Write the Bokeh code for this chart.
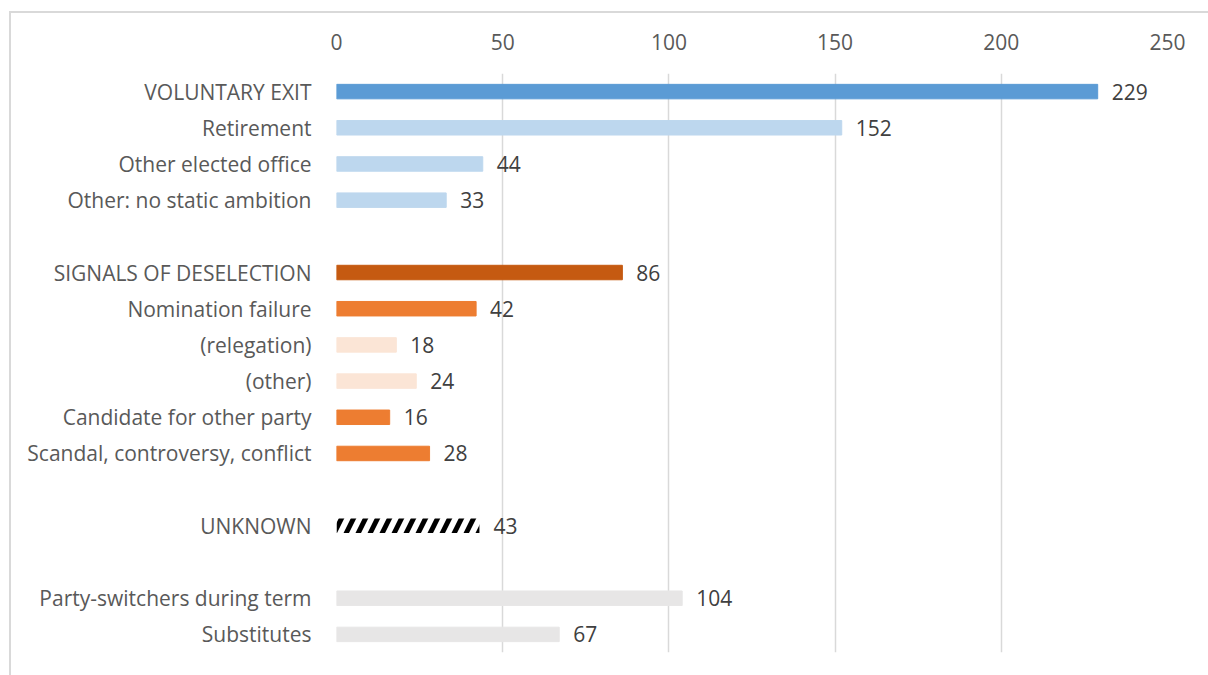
from bokeh.plotting import figure
from bokeh.models import ColumnDataSource, FixedTicker, Range1d, LabelSet
from bokeh.core.properties import value
from bokeh.embed import file_html
from bokeh.resources import INLINE

categories = ["VOLUNTARY EXIT", "Retirement", "Other elected office", "Other: no static ambition", "",
              "SIGNALS OF DESELECTION", "Nomination failure", "(relegation)", "(other)",
              "Candidate for other party", "Scandal, controversy, conflict", "",
              "UNKNOWN", "",
              "Party-switchers during term", "Substitutes"]
values = [229, 152, 44, 33, None, 86, 42, 18, 24, 16, 28, None, 43, None, 104, 67]
colors = ["#5B9BD5", "#BDD7EE", "#BDD7EE", "#BDD7EE", None,
          "#C55A11", "#ED7D31", "#FBE5D6", "#FBE5D6", "#ED7D31", "#ED7D31", None,
          "hatch", None, "#E7E6E6", "#E7E6E6"]
x_ticks = [0, 50, 100, 150, 200, 250]

FONT = "Open Sans"
FS = "21px"

pos = [i for i, v in enumerate(values) if v is not None]
plain = [i for i in pos if colors[i] != "hatch"]
hatched = [i for i in pos if colors[i] == "hatch"]

src = ColumnDataSource(dict(y=plain, v=[values[i] for i in plain], c=[colors[i] for i in plain],
                            t=[str(values[i]) for i in plain]))
hsrc = ColumnDataSource(dict(y=hatched, v=[values[i] for i in hatched], t=[str(values[i]) for i in hatched]))

p = figure(width=1199, height=664, output_backend="svg", toolbar_location=None,
           x_range=Range1d(0, 250), y_range=Range1d(len(categories) - 0.5, -0.5),
           x_axis_location="above", frame_width=831, frame_height=579,
           min_border_left=325, min_border_top=60, min_border_right=43, min_border_bottom=25)
p.margin = (11, 0, 0, 9)
p.styles = {"border-top": "2px solid #D9D9D9", "border-left": "2px solid #D9D9D9"}
p.outline_line_color = None
p.background_fill_color = "white"
p.border_fill_color = "white"

p.hbar(y="y", right="v", left=0, height=0.4, color="c", source=src)
p.hbar(y="y", right="v", left=0, height=0.4, fill_color="white", line_color=None,
       hatch_pattern="/", hatch_color="black", hatch_weight=5, hatch_scale=24, source=hsrc)

for s in (src, hsrc):
    p.add_layout(LabelSet(x="v", y="y", text="t", source=s, x_offset=14, y_offset=0,
                          text_baseline="middle", text_align="left", text_font=value(FONT),
                          text_font_size=value(FS), text_color="#404040"))

xa = p.xaxis[0]
xa.ticker = FixedTicker(ticks=x_ticks)
xa.axis_line_color = None
xa.major_tick_line_color = None
xa.minor_tick_line_color = None
xa.major_label_text_font = FONT
xa.major_label_text_font_size = FS
xa.major_label_text_color = "#595959"
xa.major_label_standoff = 18

ya = p.yaxis[0]
ya.ticker = FixedTicker(ticks=list(range(len(categories))))
ya.major_label_overrides = {i: c for i, c in enumerate(categories)}
ya.axis_line_color = None
ya.major_tick_line_color = None
ya.minor_tick_line_color = None
ya.major_label_text_font = FONT
ya.major_label_text_font_size = FS
ya.major_label_text_color = "#595959"
ya.major_label_standoff = 19

p.ygrid.grid_line_color = None
p.xgrid.grid_line_color = "#D9D9D9"
p.xgrid.grid_line_width = 1.5
p.xgrid.ticker = FixedTicker(ticks=x_ticks)

open("out.html", "w").write(file_html(p, INLINE))
